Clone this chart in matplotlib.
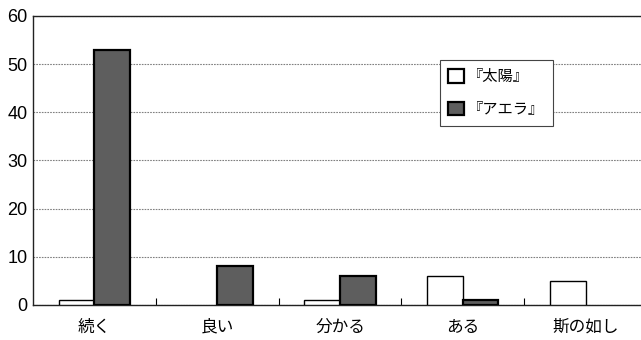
import matplotlib
matplotlib.use("Agg")
import matplotlib.pyplot as plt
import numpy as np

plt.rcParams['font.family'] = ['Noto Sans CJK JP', 'DejaVu Sans']

categories = ['続く', '良い', '分かる', 'ある', '斯の如し']
taiyo = [1, 0, 1, 6, 5]
aera = [53, 8, 6, 1, 0]
series_names = ['『太陽』', '『アエラ』']
yticks = [0, 10, 20, 30, 40, 50, 60]

fig = plt.figure(figsize=(6.41, 3.40), dpi=100)
ax = fig.add_axes([0.0515, 0.103, 0.958, 0.850])

x = np.arange(len(categories))
w = 0.29
# zero-height bars get no outline
ax.bar(x - w / 2, taiyo, w, color='white', edgecolor='black',
       linewidth=[1.0 if v else 0 for v in taiyo], label=series_names[0], zorder=3)
ax.bar(x + w / 2, aera, w, color='#5e5e5e', edgecolor='black',
       linewidth=[1.6 if v else 0 for v in aera], label=series_names[1], zorder=3)

ax.set_xlim(-0.5, len(categories) - 0.5)
ax.set_ylim(0, 60)
ax.set_yticks(yticks)
ax.set_yticklabels([str(v) for v in yticks], family=['Liberation Sans', 'DejaVu Sans'],
                   fontsize=13)
ax.set_xticks(x)
ax.set_xticklabels(categories, fontsize=12)
ax.tick_params(axis='x', length=0, pad=10)
ax.tick_params(axis='y', length=0, pad=4)

# category separators as short upward ticks on the baseline
ax.set_xticks(np.arange(0.5, len(categories) - 0.5, 1), minor=True)
ax.tick_params(axis='x', which='minor', direction='in', length=5, width=0.8)

ax.yaxis.grid(True, color='#808080', linewidth=0.8, linestyle=(0, (1.5, 1)), zorder=0)
for s in ['top', 'left', 'bottom']:
    ax.spines[s].set_color('#222222')
    ax.spines[s].set_linewidth(1.0)
ax.spines['right'].set_visible(False)

leg = ax.legend(loc='upper left', bbox_to_anchor=(440 / 641, 1 - 60 / 340),
                bbox_transform=fig.transFigure, fontsize=11, frameon=True,
                fancybox=False, edgecolor='#444444', framealpha=1,
                handlelength=1.0, handleheight=1.0, handletextpad=0.3,
                borderpad=0.55, labelspacing=1.0, borderaxespad=0)
leg.get_frame().set_linewidth(0.8)
for h in leg.legend_handles:
    h.set_linewidth(1.6)

fig.savefig('out.png', dpi=100)
